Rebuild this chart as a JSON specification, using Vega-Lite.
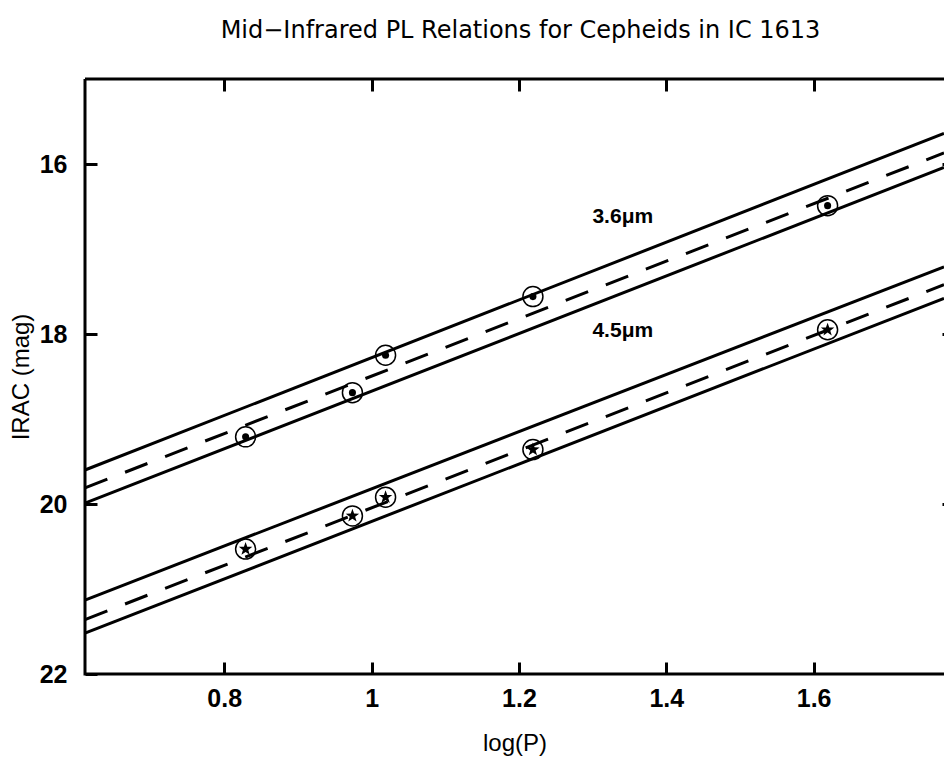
{
  "$schema": "https://vega.github.io/schema/vega-lite/v6.json",
  "width": 859,
  "height": 595,
  "autosize": "none",
  "padding": {"left": 85, "top": 79, "right": 0, "bottom": 88},
  "background": "white",
  "config": {
    "view": {"stroke": "black", "strokeWidth": 3, "strokeDash": [859, 595, 1454, 0]},
    "axis": {
      "grid": false,
      "domain": false,
      "ticks": true,
      "tickColor": "black",
      "tickWidth": 3,
      "tickSize": 12,
      "labelColor": "black",
      "labelFont": "Liberation Sans",
      "labelFontWeight": "bold",
      "labelFontSize": 25,
      "titleColor": "black",
      "titleFont": "Liberation Sans",
      "titleFontWeight": "normal",
      "titleFontSize": 24
    }
  },
  "title": {
    "text": "Mid−Infrared PL Relations for Cepheids in IC 1613",
    "anchor": "middle",
    "font": "DejaVu Sans",
    "fontSize": 24,
    "fontWeight": "normal",
    "color": "black",
    "baseline": "alphabetic",
    "offset": 16,
    "dx": 6
  },
  "datasets": {
    "lines": [
      {"id": "a36u", "kind": "solid", "x": 0.611, "y": 19.60},
      {"id": "a36u", "kind": "solid", "x": 1.777, "y": 15.64},
      {"id": "a36d", "kind": "dashed", "x": 0.611, "y": 19.81},
      {"id": "a36d", "kind": "dashed", "x": 1.777, "y": 15.87},
      {"id": "a36l", "kind": "solid", "x": 0.611, "y": 19.99},
      {"id": "a36l", "kind": "solid", "x": 1.777, "y": 16.04},
      {"id": "b45u", "kind": "solid", "x": 0.611, "y": 21.13},
      {"id": "b45u", "kind": "solid", "x": 1.777, "y": 17.21},
      {"id": "b45d", "kind": "dashed", "x": 0.611, "y": 21.36},
      {"id": "b45d", "kind": "dashed", "x": 1.777, "y": 17.42},
      {"id": "b45l", "kind": "solid", "x": 0.611, "y": 21.52},
      {"id": "b45l", "kind": "solid", "x": 1.777, "y": 17.58}
    ],
    "points": [
      {"band": "3.6", "logP": 0.829, "mag": 19.21},
      {"band": "3.6", "logP": 0.974, "mag": 18.69},
      {"band": "3.6", "logP": 1.019, "mag": 18.25},
      {"band": "3.6", "logP": 1.219, "mag": 17.56},
      {"band": "3.6", "logP": 1.619, "mag": 16.49},
      {"band": "4.5", "logP": 0.829, "mag": 20.53},
      {"band": "4.5", "logP": 0.974, "mag": 20.14},
      {"band": "4.5", "logP": 1.019, "mag": 19.92},
      {"band": "4.5", "logP": 1.219, "mag": 19.36},
      {"band": "4.5", "logP": 1.619, "mag": 17.95}
    ],
    "labels": [
      {"text": "3.6μm", "x": 1.341, "y": 16.62},
      {"text": "4.5μm", "x": 1.341, "y": 17.97}
    ]
  },
  "layer": [
    {
      "data": {"name": "lines"},
      "transform": [{"filter": "datum.kind === 'solid'"}],
      "mark": {"type": "line", "color": "black", "strokeWidth": 3},
      "encoding": {
        "x": {"field": "x", "type": "quantitative", "scale": {"domain": [0.611, 1.777], "nice": false, "zero": false},
          "axis": {"orient": "bottom", "offset": -12, "tickSize": 12, "values": [0.8, 1, 1.2, 1.4, 1.6], "format": "~g", "labelPadding": 12, "title": "log(P)", "titlePadding": 20}},
        "y": {"field": "y", "type": "quantitative", "scale": {"domain": [15, 22], "reverse": true, "nice": false, "zero": false},
          "axis": {"orient": "left", "tickSize": -12, "values": [16, 18, 20, 22], "format": "~g", "labelPadding": 30, "title": "IRAC (mag)", "titlePadding": 6}},
        "detail": {"field": "id"}
      }
    },
    {
      "data": {"name": "lines"},
      "transform": [{"filter": "datum.kind === 'dashed'"}],
      "mark": {"type": "line", "color": "black", "strokeWidth": 3, "strokeDash": [24, 19]},
      "encoding": {
        "x": {"field": "x", "type": "quantitative",
          "axis": {"orient": "top", "offset": -12, "tickSize": 12, "values": [0.8, 1, 1.2, 1.4, 1.6], "labels": false, "title": null}},
        "y": {"field": "y", "type": "quantitative",
          "axis": {"orient": "right", "offset": -2, "tickSize": 2, "values": [16, 18, 20], "labels": false, "title": null}},
        "detail": {"field": "id"}
      }
    },
    {
      "data": {"name": "points"},
      "mark": {"type": "point", "shape": "circle", "filled": false, "stroke": "black", "strokeWidth": 1.5, "size": 400, "opacity": 1},
      "encoding": {
        "x": {"field": "logP", "type": "quantitative", "axis": null},
        "y": {"field": "mag", "type": "quantitative", "axis": null}
      }
    },
    {
      "data": {"name": "points"},
      "transform": [{"filter": "datum.band === '3.6'"}],
      "mark": {"type": "point", "shape": "circle", "filled": true, "color": "black", "size": 50, "opacity": 1},
      "encoding": {
        "x": {"field": "logP", "type": "quantitative", "axis": null},
        "y": {"field": "mag", "type": "quantitative", "axis": null}
      }
    },
    {
      "data": {"name": "points"},
      "transform": [{"filter": "datum.band === '4.5'"}],
      "mark": {"type": "point", "shape": "M0,-1L0.235,-0.324L0.951,-0.309L0.380,0.124L0.588,0.809L0,0.4L-0.588,0.809L-0.380,0.124L-0.951,-0.309L-0.235,-0.324Z", "filled": true, "color": "black", "size": 200, "opacity": 1},
      "encoding": {
        "x": {"field": "logP", "type": "quantitative", "axis": null},
        "y": {"field": "mag", "type": "quantitative", "axis": null}
      }
    },
    {
      "data": {"name": "labels"},
      "mark": {"type": "text", "font": "Liberation Sans", "fontSize": 21, "fontWeight": "bold", "color": "black", "align": "center", "baseline": "middle"},
      "encoding": {
        "x": {"field": "x", "type": "quantitative", "axis": null},
        "y": {"field": "y", "type": "quantitative", "axis": null},
        "text": {"field": "text"}
      }
    }
  ],
  "resolve": {"axis": {"x": "independent", "y": "independent"}}
}
